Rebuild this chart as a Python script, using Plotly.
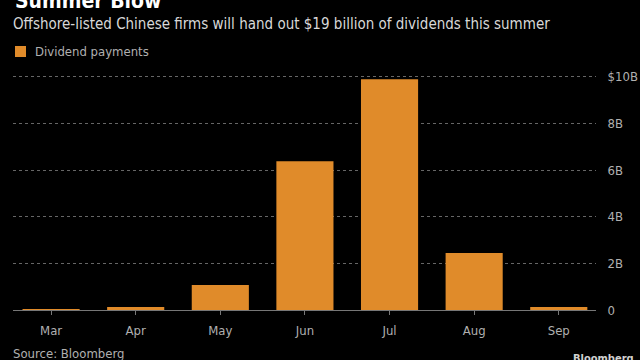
import plotly.graph_objects as go

months = ["Mar", "Apr", "May", "Jun", "Jul", "Aug", "Sep"]
dividends_b = [0.03, 0.13, 1.07, 6.38, 9.9, 2.45, 0.13]
y_ticks = [0, 2, 4, 6, 8, 10]
y_tick_labels = ["0", "2B", "4B", "6B", "8B", "$10B"]

BAR = "#E08B2A"
FONT = "DejaVu Sans Condensed, Liberation Sans, Arial"

W, H = 640, 360
L, R = 13, 44
T, B = 72, 50  # plot top/bottom margins in px
PLOT_H = H - T - B


def py(p):
    """Convert page pixel y to paper coordinate."""
    return (H - B - p) / PLOT_H


def px(p):
    return (p - L) / (W - L - R)


fig = go.Figure(
    go.Bar(
        x=months,
        y=dividends_b,
        marker=dict(color=BAR, line=dict(width=0)),
        name="Dividend payments",
        showlegend=False,
    )
)

fig.update_layout(
    width=W,
    height=H,
    margin=dict(l=L, r=R, t=T, b=B),
    paper_bgcolor="black",
    plot_bgcolor="black",
    bargap=0.325,
    font=dict(family=FONT, color="#b0b0b0", size=13),
    showlegend=False,
)

fig.update_xaxes(
    range=[-0.45, 6.44],
    showgrid=False,
    showline=True,
    linecolor="#777777",
    linewidth=1,
    ticks="outside",
    ticklen=4,
    tickcolor="#777777",
    ticklabelstandoff=4,
    tickfont=dict(size=13, color="#b0b0b0", family=FONT),
    zeroline=False,
    automargin=False,
)

fig.update_yaxes(
    side="right",
    range=[0, 10.21],
    tickvals=y_ticks,
    ticktext=y_tick_labels,
    showgrid=True,
    gridcolor="#666666",
    griddash="dot",
    gridwidth=1,
    zeroline=False,
    showline=False,
    ticks="outside",
    ticklen=8,
    tickcolor="black",
    tickfont=dict(size=13, color="#b0b0b0", family=FONT),
    automargin=False,
)

common = dict(xref="paper", yref="paper", showarrow=False, xanchor="left", yanchor="middle")
annotations = [
    dict(text="<b>Summer Blow</b>", x=px(13), y=py(1),
         font=dict(size=21, color="white", family=FONT), **common),
    dict(text="Offshore-listed Chinese firms will hand out $19 billion of dividends this summer",
         x=px(11), y=py(24),
         font=dict(size=15, color="#d8d8d8", family=FONT), **common),
    dict(text="Dividend payments", x=px(33), y=py(51),
         font=dict(size=13, color="#b0b0b0", family=FONT), **common),
    dict(text="Source: Bloomberg", x=px(11), y=py(353),
         font=dict(size=13, color="#b0b0b0", family=FONT), **common),
    dict(text="<b>Bloomberg</b>", x=px(571), y=py(358),
         font=dict(size=11, color="#d0d0d0", family=FONT), **common),
]
fig.update_layout(annotations=annotations)

fig.add_shape(type="rect", xref="paper", yref="paper",
              x0=px(15), x1=px(26), y0=py(46), y1=py(57),
              fillcolor=BAR, line=dict(width=0))

fig.write_html(
    "out.html",
    config={"displayModeBar": False},
    post_script="document.body.style.margin='0';document.body.style.background='black';",
)
